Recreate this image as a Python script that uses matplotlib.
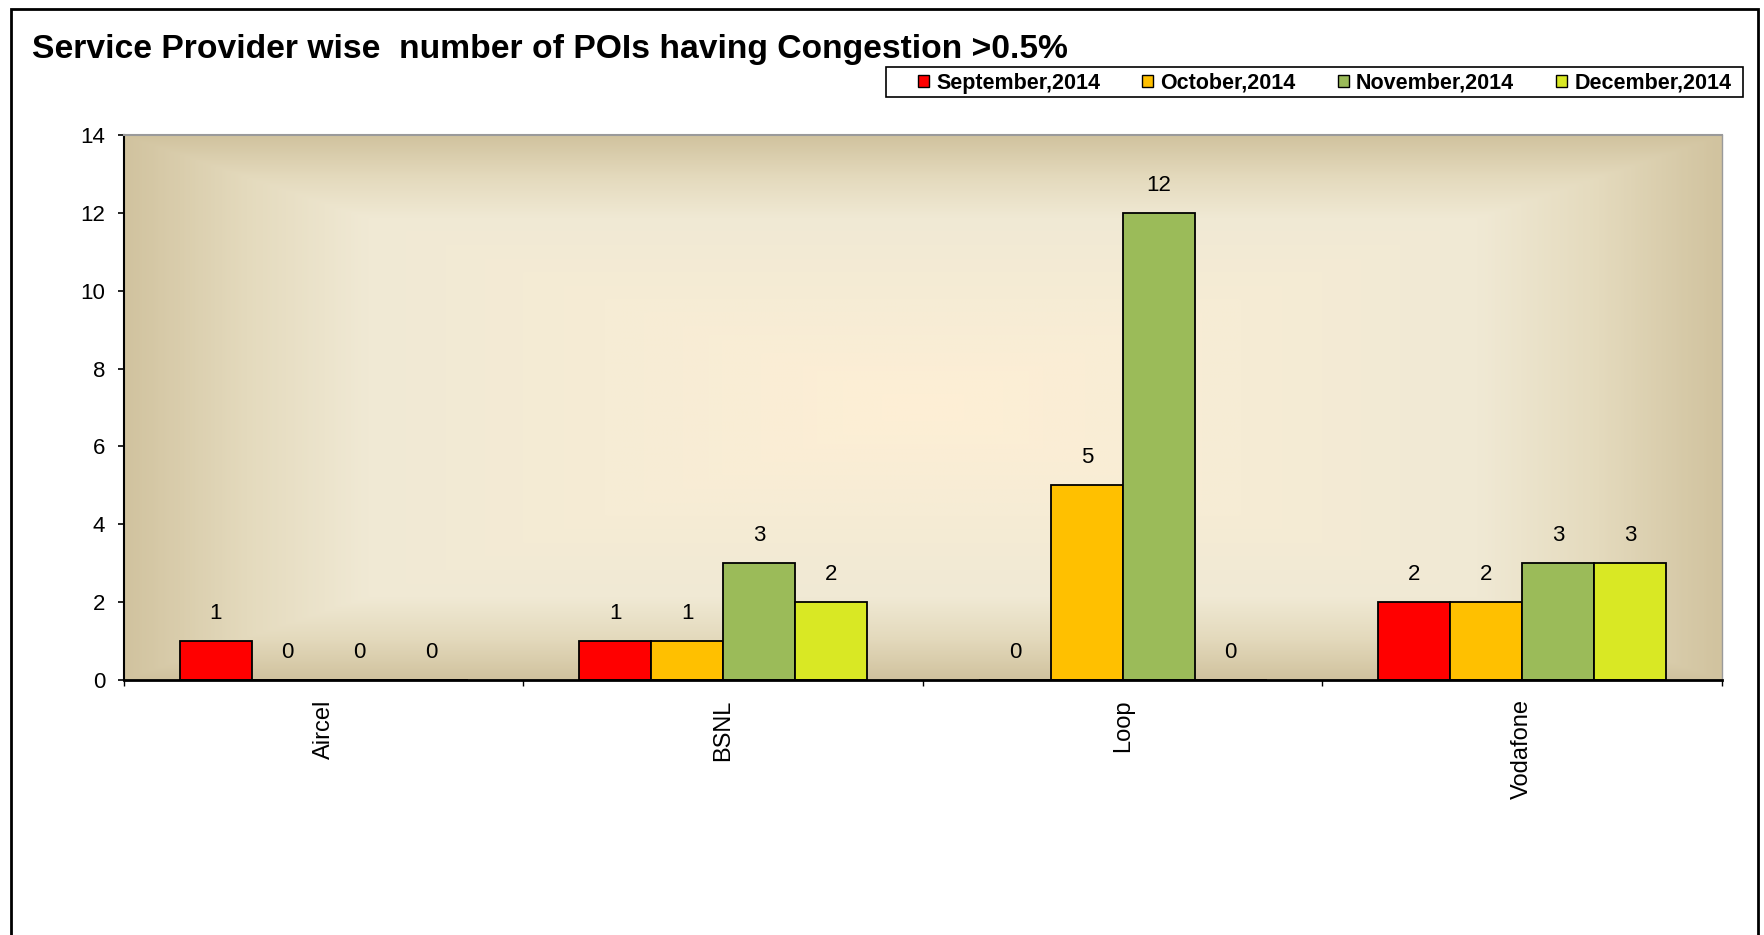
import numpy as np
import matplotlib
matplotlib.use("Agg")
import matplotlib.pyplot as plt
from matplotlib.colors import LinearSegmentedColormap
from matplotlib.patches import Patch, Rectangle

# data
providers = ["Aircel", "BSNL", "Loop", "Vodafone"]
months = ["September,2014", "October,2014", "November,2014", "December,2014"]
sep_2014 = [1, 1, 0, 2]
oct_2014 = [0, 1, 5, 2]
nov_2014 = [0, 3, 12, 3]
dec_2014 = [0, 2, 0, 3]
series = [sep_2014, oct_2014, nov_2014, dec_2014]
colors = ["#FF0000", "#FFC000", "#9BBB59", "#D9E824"]

W, H = 1765, 935
plt.rcParams["font.family"] = ["Liberation Sans", "DejaVu Sans"]

fig = plt.figure(figsize=(W / 100, H / 100), dpi=100)
fig.patch.set_facecolor("white")


def fx(px):
    return px / W


def fy(px):
    return 1 - px / H


ax = fig.add_axes([fx(124), fy(680), fx(1722) - fx(124), fy(135) - fy(680)])

# rectangular "from centre" gradient like the Excel plot area fill
bg = LinearSegmentedColormap.from_list(
    "bg",
    [(0.0, "#FEEFD5"), (0.4, "#F6ECD5"), (0.7, "#F0E9D4"),
     (0.85, "#E4DABD"), (1.0, "#D1C39F")],
)
u = np.linspace(-1, 1, 400)
v = np.linspace(-1, 1, 200)
uu, vv = np.meshgrid(u, v)
t = np.maximum(np.abs(uu), np.abs(vv))
ax.imshow(t, cmap=bg, vmin=0, vmax=1, extent=[0, 1, 0, 1],
          transform=ax.transAxes, aspect="auto", zorder=0, interpolation="bilinear")

x = np.arange(len(providers))
width = 0.18
for i, (vals, col) in enumerate(zip(series, colors)):
    pos = x + (i - 1.5) * width
    ax.bar(pos, vals, width=width, color=col, edgecolor="black",
           linewidth=1.3, zorder=2, label=months[i])
    for p, val in zip(pos, vals):
        ax.annotate(str(val), (p, val), xytext=(0, 20), textcoords="offset points",
                    ha="center", va="center", fontsize=16, color="black", zorder=3)

ax.set_xlim(-0.5, len(providers) - 0.5)
ax.set_ylim(0, 14)
ax.set_yticks(range(0, 15, 2))
ax.tick_params(axis="y", direction="out", length=4.5, width=1.2, labelsize=16, pad=9)

ax.set_xticks(x)
ax.set_xticklabels(providers, rotation=90, fontsize=17)
ax.set_xticks(np.arange(-0.5, len(providers)), minor=True)
ax.tick_params(axis="x", which="major", length=0, pad=14)
ax.tick_params(axis="x", which="minor", direction="out", length=4.5, width=1.0)

ax.spines["left"].set_linewidth(1.5)
ax.spines["bottom"].set_linewidth(2)
ax.spines["top"].set_color("#9A9A9A")
ax.spines["top"].set_linewidth(1.5)
ax.spines["right"].set_color("#9A9A9A")
ax.spines["right"].set_linewidth(1)

fig.text(fx(32), fy(58), "Service Provider wise  number of POIs having Congestion >0.5%",
         fontsize=24.2, fontweight="bold", va="baseline", ha="left")

# legend box drawn separately, entries placed inside it
fig.add_artist(Rectangle((fx(886), fy(97)), fx(1743) - fx(886), fy(67) - fy(97),
                         transform=fig.transFigure, facecolor="white",
                         edgecolor="black", linewidth=1.2, zorder=1))
handles = [Patch(facecolor=c, edgecolor="black", linewidth=1.0) for c in colors]
leg = fig.legend(handles, months, loc="center left", ncol=4,
                 bbox_to_anchor=(fx(918), fy(83)), bbox_transform=fig.transFigure,
                 borderaxespad=0, borderpad=0, frameon=False, columnspacing=1.95,
                 handlelength=0.5, handleheight=0.5, handletextpad=0.35,
                 prop={"weight": "bold", "size": 15.5})
leg.set_zorder(2)

# outer chart border (bottom edge is cut off in the reference)
fig.add_artist(Rectangle((fx(11), -0.2), fx(1758) - fx(11), fy(9) + 0.2,
                         transform=fig.transFigure, fill=False,
                         edgecolor="black", linewidth=2))

fig.savefig("out.png", dpi=100)
